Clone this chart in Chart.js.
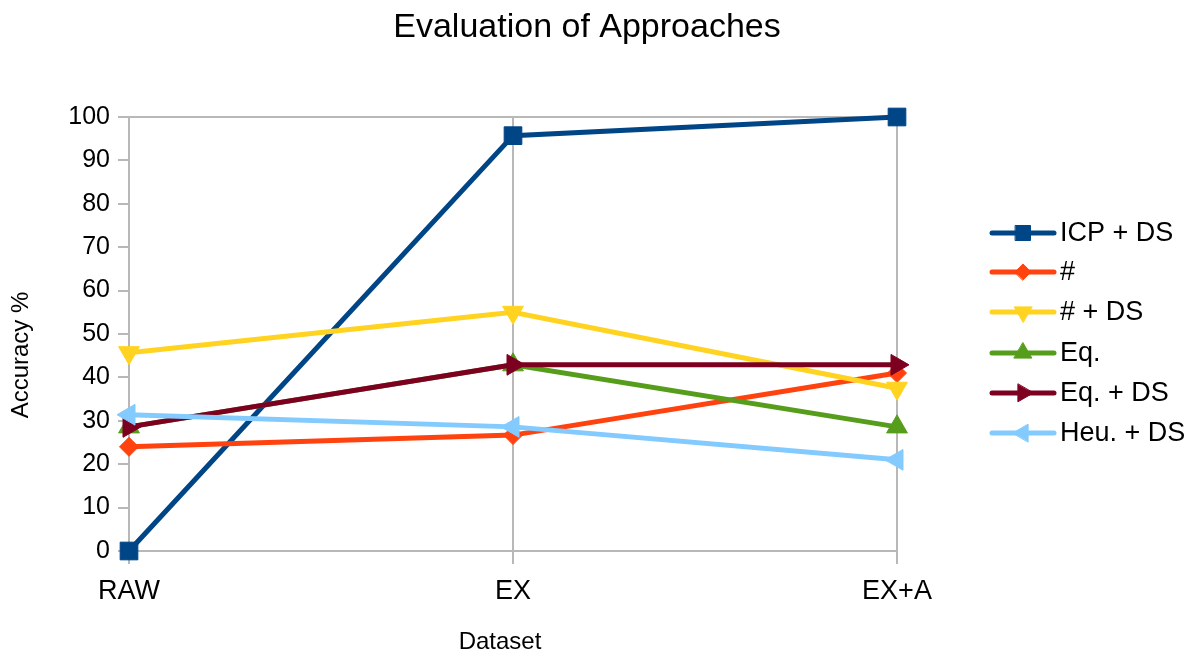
<!DOCTYPE html>
<html>
<head>
<meta charset="utf-8">
<script src="https://cdn.jsdelivr.net/npm/chart.js@4/dist/chart.umd.min.js"></script>
<style>
  html, body { margin: 0; padding: 0; background: #ffffff; }
  #wrap { width: 1192px; height: 655px; position: relative; }
</style>
</head>
<body>
<div id="wrap"><canvas id="chart"></canvas></div>
<script>
// Categories, series values and tick labels
const categories = ['RAW', 'EX', 'EX+A'];
const seriesNames = ['ICP + DS', '#', '# + DS', 'Eq.', 'Eq. + DS', 'Heu. + DS'];
const icpDs = [0, 95.7, 100];
const hashOnly = [24, 26.7, 41];
const hashDs = [45.7, 55, 37.5];
const eqOnly = [28.6, 42.9, 28.6];
const eqDs = [28.6, 42.9, 42.9];
const heuDs = [31.4, 28.6, 21];
const yTicks = [0, 10, 20, 30, 40, 50, 60, 70, 80, 90, 100];

const chartTitle = 'Evaluation of Approaches';
const xTitle = 'Dataset';
const yTitle = 'Accuracy %';

// Series styling
const colors = ['#004586', '#ff420e', '#ffd320', '#579d1c', '#7e0021', '#83caff'];
const markers = [
  { style: 'rect', radius: 12.5, rotation: 0 },
  { style: 'rectRot', radius: 9.5, rotation: 0 },
  { style: 'triangle', radius: 12, rotation: 180 },
  { style: 'triangle', radius: 12, rotation: 0 },
  { style: 'triangle', radius: 12, rotation: 90 },
  { style: 'triangle', radius: 12, rotation: 270 }
];
const values = [icpDs, hashOnly, hashDs, eqOnly, eqDs, heuDs];

const FONT = '"Liberation Sans", Arial, sans-serif';
const GRID = '#b8b8b8';

const datasets = seriesNames.map((name, i) => ({
  label: name,
  data: values[i],
  borderColor: colors[i],
  backgroundColor: colors[i],
  borderWidth: 5,
  pointStyle: markers[i].style,
  pointRadius: markers[i].radius,
  pointHoverRadius: markers[i].radius,
  pointRotation: markers[i].rotation,
  pointBackgroundColor: colors[i],
  pointBorderColor: colors[i],
  pointBorderWidth: 1,
  tension: 0,
  fill: false,
  clip: false,
  // later series sit on top of earlier ones
  order: seriesNames.length - i
}));

// Title, axis titles and the line+marker legend
const decorations = {
  id: 'decorations',
  afterDraw(chart) {
    const ctx = chart.ctx;
    ctx.save();
    ctx.fillStyle = '#000';
    ctx.textAlign = 'center';
    ctx.textBaseline = 'alphabetic';
    ctx.font = '34px ' + FONT;
    ctx.fillText(chartTitle, 587, 37);

    ctx.font = '24px ' + FONT;
    ctx.fillText(xTitle, 500, 649);

    ctx.save();
    ctx.translate(28, 355);
    ctx.rotate(-Math.PI / 2);
    ctx.fillText(yTitle, 0, 0);
    ctx.restore();

    const rows = [233, 272, 312, 353, 393, 433];
    chart.data.datasets.forEach((ds, i) => {
      const y = rows[i];
      ctx.strokeStyle = ds.borderColor;
      ctx.lineWidth = 5;
      ctx.lineCap = 'round';
      ctx.beginPath();
      ctx.moveTo(992, y);
      ctx.lineTo(1054, y);
      ctx.stroke();
      ctx.fillStyle = ds.pointBackgroundColor;
      ctx.strokeStyle = ds.pointBorderColor;
      ctx.lineWidth = 1;
      Chart.helpers.drawPoint(ctx, {
        pointStyle: ds.pointStyle,
        radius: ds.pointRadius * 0.85,
        rotation: ds.pointRotation,
        borderWidth: 1
      }, 1023, y);
      ctx.fillStyle = '#000';
      ctx.textAlign = 'left';
      ctx.textBaseline = 'middle';
      ctx.font = '27px ' + FONT;
      ctx.fillText(ds.label, 1060, y + 1);
    });
    ctx.restore();
  }
};

new Chart(document.getElementById('chart'), {
  type: 'line',
  data: { labels: categories, datasets },
  options: {
    responsive: true,
    maintainAspectRatio: false,
    animation: false,
    events: [],
    layout: { padding: { top: 117, right: 295, bottom: 0, left: 0 } },
    plugins: {
      legend: { display: false },
      title: { display: false },
      tooltip: { enabled: false }
    },
    scales: {
      x: {
        type: 'category',
        offset: false,
        afterFit(scale) { scale.height = 104; },
        grid: {
          color: GRID,
          tickColor: GRID,
          lineWidth: 2,
          tickLength: 13,
          drawOnChartArea: true
        },
        border: { display: true, color: GRID, width: 2 },
        ticks: {
          color: '#000',
          padding: 11,
          maxRotation: 0,
          font: { family: FONT, size: 27 }
        }
      },
      y: {
        min: 0,
        max: 100,
        afterFit(scale) { scale.width = 129; },
        afterBuildTicks(scale) { scale.ticks = yTicks.map(v => ({ value: v })); },
        grid: {
          color: (c) => (c.tick && c.tick.value === 100 ? GRID : 'rgba(0,0,0,0)'),
          tickColor: GRID,
          lineWidth: 2,
          tickLength: 11
        },
        border: { display: true, color: GRID, width: 2 },
        ticks: {
          color: '#000',
          padding: 8,
          font: { family: FONT, size: 25 }
        }
      }
    }
  },
  plugins: [decorations]
});
</script>
</body>
</html>
